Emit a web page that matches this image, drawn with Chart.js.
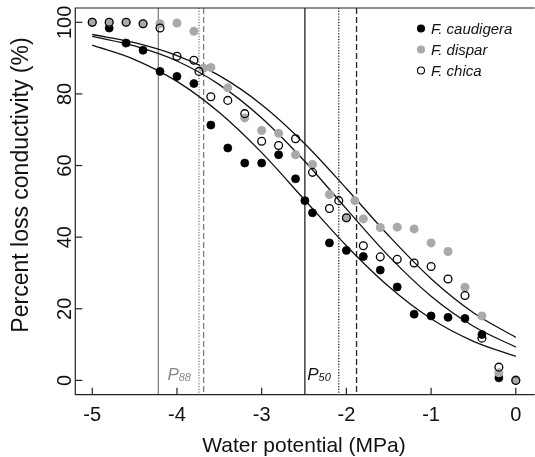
<!DOCTYPE html>
<html>
<head>
<meta charset="utf-8">
<script src="https://cdn.jsdelivr.net/npm/chart.js@4.4.1/dist/chart.umd.min.js"></script>
<style>
body { margin: 0; background: #fff; }
#wrap { width: 535px; height: 457px; }
</style>
</head>
<body>
<div id="wrap"><canvas id="chart" width="535" height="457"></canvas></div>
<script>
const species = ['F. caudigera', 'F. dispar', 'F. chica']

// F. caudigera (black dots)
const caud_x = [-5, -4.8, -4.6, -4.4, -4.2, -4.0, -3.8, -3.6, -3.4, -3.2, -3.0, -2.8, -2.6, -2.49, -2.4, -2.2, -2.0, -1.8, -1.6, -1.4, -1.2, -1.0, -0.8, -0.6, -0.4, -0.2, 0]
const caud_y = [100, 98.4, 94.2, 92.2, 86.3, 84.9, 82.9, 71.3, 64.9, 60.7, 60.7, 63.0, 56.3, 50.2, 46.8, 38.4, 36.3, 34.6, 30.8, 26.1, 18.5, 18.0, 17.6, 17.3, 12.8, 0.7, 0]

// F. dispar (grey dots)
const dispar_x = [-5, -4.8, -4.6, -4.4, -4.2, -4.0, -3.8, -3.685, -3.6, -3.4, -3.2, -3.0, -2.8, -2.6, -2.4, -2.2, -2.0, -1.9, -1.8, -1.6, -1.4, -1.2, -1.0, -0.8, -0.6, -0.4, -0.2, 0]
const dispar_y = [100, 100, 100, 99.6, 99.6, 99.8, 97.5, 87.2, 87.4, 81.7, 73.3, 69.8, 69.0, 63.0, 60.3, 51.9, 45.4, 50.2, 45.1, 42.7, 42.8, 42.3, 38.4, 36.0, 26.0, 18.0, 2.1, 0.2]

// F. chica (open circles)
const chica_x = [-5, -4.8, -4.6, -4.4, -4.2, -4.0, -3.8, -3.74, -3.6, -3.4, -3.2, -3.0, -2.8, -2.6, -2.4, -2.2, -2.09, -2.0, -1.8, -1.6, -1.4, -1.2, -1.0, -0.8, -0.6, -0.4, -0.2, 0]
const chica_y = [100, 100, 100, 99.6, 98.4, 90.5, 89.4, 86.3, 79.2, 78.2, 74.5, 66.8, 65.6, 67.5, 58.1, 48.0, 50.2, 45.4, 37.6, 34.5, 33.8, 32.8, 31.8, 28.3, 23.7, 11.8, 3.7, 0]

// fitted curves
const curve_x      = [-5, -4.5, -4, -3.5, -3, -2.5, -2, -1.5, -1, -0.5, 0]
const curve_caud   = [93.6, 89.6, 83.5, 74.8, 63.6, 50.6, 37.6, 26.2, 17.2, 10.9, 6.7]
const curve_chica  = [96.1, 93.4, 89.2, 82.6, 73.3, 61.4, 47.9, 34.7, 23.5, 15.1, 9.3]
const curve_dispar = [96.6, 94.3, 90.7, 85.1, 77.0, 66.3, 53.6, 40.4, 28.4, 18.9, 12.0]

// P88 and P50 lines (caudigera, chica, dispar)
const p88 = [-4.22, -3.74, -3.685]
const p50 = [-2.49, -2.09, -1.88]

const x_ticks = [-5, -4, -3, -2, -1, 0]
const y_ticks = [0, 20, 40, 60, 80, 100]

const x_title = 'Water potential (MPa)'
const y_title = 'Percent loss conductivity (%)'

const FONT = "'Liberation Sans', Arial, sans-serif"
const GREY = '#a9a9a9'

function pts(xs, ys) {
    return xs.map((x, i) => ({x: x, y: ys[i]}))
}

function curve(ys) {
    return {
        data: pts(curve_x, ys),
        showLine: true,
        pointRadius: 0,
        borderColor: '#111',
        borderWidth: 1.3,
        cubicInterpolationMode: 'monotone',
        order: 4
    }
}

// P lines go behind the points
const pLines = {
    id: 'pLines',
    beforeDatasetsDraw(chart) {
        const ctx = chart.ctx
        const area = chart.chartArea
        const sx = chart.scales.x
        const dashes = [[], [1.2, 1.6], [6, 3]]
        const draw = (vals, color) => {
            vals.forEach((v, i) => {
                const px = sx.getPixelForValue(v)
                ctx.save()
                ctx.strokeStyle = color
                ctx.lineWidth = 1.3
                ctx.setLineDash(dashes[i])
                ctx.beginPath()
                ctx.moveTo(px, area.top)
                ctx.lineTo(px, area.bottom)
                ctx.stroke()
                ctx.restore()
            })
        }
        draw(p88, '#808080')
        draw(p50, '#222')
    }
}

// R style axes: box, inward ticks, rotated y labels, legend
const axes = {
    id: 'axes',
    afterDraw(chart) {
        const ctx = chart.ctx
        const a = chart.chartArea
        const sx = chart.scales.x
        const sy = chart.scales.y
        ctx.save()
        ctx.strokeStyle = '#222'
        ctx.lineWidth = 1.2
        ctx.beginPath()
        ctx.moveTo(a.right + 5, a.top)
        ctx.lineTo(a.left, a.top)
        ctx.lineTo(a.left, a.bottom)
        ctx.lineTo(a.right + 5, a.bottom)
        ctx.stroke()

        ctx.fillStyle = '#111'
        ctx.font = '20px ' + FONT
        ctx.textAlign = 'center'
        ctx.textBaseline = 'alphabetic'
        x_ticks.forEach(t => {
            const px = sx.getPixelForValue(t)
            ctx.beginPath()
            ctx.moveTo(px, a.bottom)
            ctx.lineTo(px, a.bottom - 7)
            ctx.stroke()
            ctx.fillText(String(t), px, a.bottom + 26)
        })
        y_ticks.forEach(t => {
            const py = sy.getPixelForValue(t)
            ctx.beginPath()
            ctx.moveTo(a.left, py)
            ctx.lineTo(a.left + 7, py)
            ctx.stroke()
            ctx.save()
            ctx.translate(a.left - 4, py)
            ctx.rotate(-Math.PI / 2)
            ctx.fillText(String(t), 0, 0)
            ctx.restore()
        })

        ctx.font = '21px ' + FONT
        ctx.fillText(x_title, (a.left + a.right + 3) / 2, 452)
        ctx.save()
        ctx.font = '23px ' + FONT
        ctx.translate(28, 185)
        ctx.rotate(-Math.PI / 2)
        ctx.fillText(y_title, 0, 0)
        ctx.restore()

        // P88 / P50 labels, left of the dotted line
        const plabel = (vals, sub, color) => {
            const right = sx.getPixelForValue(vals[1]) - 8
            const base = sy.getPixelForValue(0)
            ctx.fillStyle = color
            ctx.textAlign = 'right'
            ctx.font = 'italic 11px ' + FONT
            const w = ctx.measureText(sub).width
            ctx.fillText(sub, right, base + 1)
            ctx.font = 'italic 17px ' + FONT
            ctx.fillText('P', right - w, base)
        }
        plabel(p88, '88', '#888')
        plabel(p50, '50', '#111')

        // legend
        const rows = [
            {fill: '#000', stroke: '#000'},
            {fill: GREY, stroke: GREY},
            {fill: null, stroke: '#000'}
        ]
        ctx.font = 'italic 15px ' + FONT
        ctx.textAlign = 'left'
        ctx.textBaseline = 'middle'
        rows.forEach((r, i) => {
            const y = 28.5 + i * 21
            ctx.beginPath()
            ctx.arc(421, y, 3.5, 0, Math.PI * 2)
            if (r.fill) { ctx.fillStyle = r.fill; ctx.fill() }
            ctx.strokeStyle = r.stroke
            ctx.lineWidth = 1.1
            ctx.stroke()
            ctx.fillStyle = '#111'
            ctx.fillText(species[i], 431, y + 1)
        })
        ctx.restore()
    }
}

new Chart(document.getElementById('chart'), {
    type: 'scatter',
    data: {
        datasets: [
            {
                label: species[2],
                data: pts(chica_x, chica_y),
                pointRadius: 3.9,
                pointBorderWidth: 1.3,
                pointBackgroundColor: 'rgba(0,0,0,0)',
                pointBorderColor: '#000',
                order: 1
            },
            {
                label: species[1],
                data: pts(dispar_x, dispar_y),
                pointRadius: 4.5,
                pointBorderWidth: 0,
                pointBackgroundColor: GREY,
                pointBorderColor: GREY,
                order: 2
            },
            {
                label: species[0],
                data: pts(caud_x, caud_y),
                pointRadius: 4.0,
                pointBorderWidth: 0.8,
                pointBackgroundColor: '#000',
                pointBorderColor: '#000',
                order: 3
            },
            curve(curve_dispar),
            curve(curve_chica),
            curve(curve_caud)
        ]
    },
    options: {
        responsive: false,
        animation: false,
        events: [],
        devicePixelRatio: 1,
        layout: { padding: { left: 75.3, top: 8, right: 0, bottom: 62.3 } },
        scales: {
            x: { type: 'linear', min: -5.2, max: 0.164, display: false },
            y: { type: 'linear', min: -4, max: 104, display: false }
        },
        plugins: {
            legend: { display: false },
            tooltip: { enabled: false }
        }
    },
    plugins: [pLines, axes]
})
</script>
</body>
</html>
